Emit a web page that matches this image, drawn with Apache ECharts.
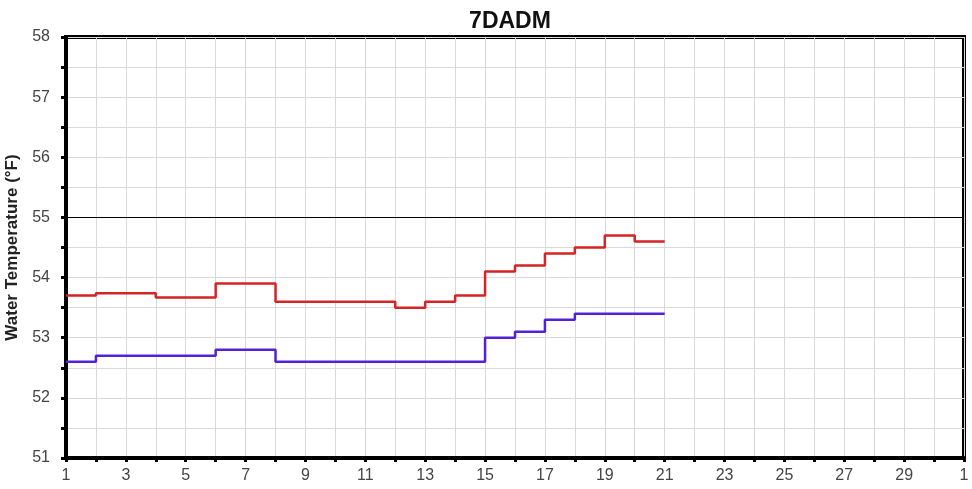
<!DOCTYPE html>
<html>
<head>
<meta charset="utf-8">
<script src="https://cdn.jsdelivr.net/npm/echarts@6/dist/echarts.min.js"></script>
<style>
  html, body { margin: 0; padding: 0; background: #fff; }
  #chart { width: 972px; height: 489px; }
</style>
</head>
<body>
<div id="chart"></div>
<script>
// day of month, one step per day
var days = [1, 2, 3, 4, 5, 6, 7, 8, 9, 10, 11, 12, 13, 14, 15, 16, 17, 18, 19, 20, 21];
var maxTemp = [53.7, 53.74, 53.74, 53.67, 53.67, 53.9, 53.9, 53.6, 53.6, 53.6, 53.6, 53.5, 53.6, 53.7, 54.1, 54.2, 54.4, 54.5, 54.7, 54.6, 54.6];
var minTemp = [52.6, 52.7, 52.7, 52.7, 52.7, 52.8, 52.8, 52.6, 52.6, 52.6, 52.6, 52.6, 52.6, 52.6, 53.0, 53.1, 53.3, 53.4, 53.4, 53.4, 53.4];
var criterion = 55;

function pairs(vals) {
    return days.map(function (d, i) { return [d, vals[i]]; });
}

var chart = echarts.init(document.getElementById('chart'));

var option = {
    animation: false,
    title: {
        text: '7DADM',
        left: 505,
        textAlign: 'center',
        top: 5,
        textStyle: {fontFamily: 'Liberation Sans', fontSize: 23, fontWeight: 'bold', color: '#111'}
    },
    grid: {
        left: 66, right: 8, top: 37, bottom: 31,
        outerBoundsMode: 'none',
        containLabel: false,
        show: true, borderColor: '#000', borderWidth: 4
    },
    xAxis: {
        type: 'value',
        min: 1, max: 31, interval: 1,
        axisLine: {lineStyle: {color: '#000', width: 4}},
        axisTick: {show: true, inside: false, length: 4, lineStyle: {color: '#000', width: 3}},
        axisLabel: {
            color: '#444', fontFamily: 'Liberation Sans', fontSize: 16, margin: 10,
            formatter: function (v) {
                if (v % 2 !== 1) return '';
                return v === 31 ? '1' : String(v);
            }
        },
        splitLine: {show: true, lineStyle: {color: '#d9d9d9', width: 1}}
    },
    yAxis: {
        type: 'value',
        min: 51, max: 58, interval: 0.5,
        name: 'Water Temperature (°F)',
        nameLocation: 'middle',
        nameGap: 6,
        nameTextStyle: {fontFamily: 'Liberation Sans', fontSize: 17, fontWeight: 'bold', color: '#222'},
        axisLine: {lineStyle: {color: '#000', width: 4}},
        axisTick: {show: true, length: 5, lineStyle: {color: '#000', width: 3}},
        axisLabel: {
            color: '#444', fontFamily: 'Liberation Sans', fontSize: 16, margin: 16,
            formatter: function (v) { return v % 1 === 0 ? String(v) : ''; }
        },
        splitLine: {show: true, lineStyle: {color: '#d9d9d9', width: 1}}
    },
    series: [
        {
            name: 'Max',
            type: 'line',
            step: 'end',
            data: pairs(maxTemp),
            symbol: 'none',
            lineStyle: {color: '#d42424', width: 2.5},
            markLine: {
                silent: true,
                symbol: 'none',
                label: {show: false},
                lineStyle: {color: '#000', width: 1.2, type: 'solid'},
                data: [{yAxis: criterion}]
            }
        },
        {
            name: 'Min',
            type: 'line',
            step: 'end',
            data: pairs(minTemp),
            symbol: 'none',
            lineStyle: {color: '#5322d8', width: 2.5}
        }
    ]
};

chart.setOption(option);
</script>
</body>
</html>
